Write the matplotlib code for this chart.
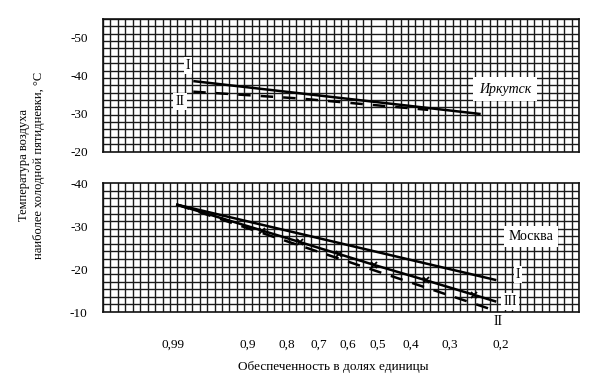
import matplotlib
matplotlib.use("Agg")
import matplotlib.pyplot as plt
import numpy as np
from matplotlib.ticker import FixedLocator, NullLocator

plt.rcParams['font.family'] = ['Liberation Serif', 'DejaVu Serif']

# probability ticks (Gumbel probability paper)
p_ticks = [0.99, 0.9, 0.8, 0.7, 0.6, 0.5, 0.4, 0.3, 0.2]
p_labels = ["0,99", "0,9", "0,8", "0,7", "0,6", "0,5", "0,4", "0,3", "0,2"]

# Иркутск
irk_I_p = [0.978, 0.236]
irk_I_t = [-38.6, -29.9]
irk_II_p = [0.978, 0.760, 0.354]
irk_II_t = [-35.8, -34.0, -31.0]

# Москва
msk_I_p = [0.988, 0.21]
msk_I_t = [-35.0, -17.5]
msk_II_p = [0.988, 0.214]
msk_II_t = [-35.0, -10.5]
msk_III_p = [0.988, 0.868, 0.760, 0.630, 0.514, 0.360, 0.249, 0.21]
msk_III_t = [-35.0, -29.0, -26.3, -23.5, -21.0, -17.4, -14.0, -12.5]


def fwd(p):
    p = np.clip(np.asarray(p, dtype=float), 1e-9, 1 - 1e-12)
    return np.log(-np.log(1 - p))


def inv(u):
    return 1 - np.exp(-np.exp(np.asarray(u, dtype=float)))


fig = plt.figure(figsize=(6.12, 3.8), dpi=100)
ax1 = fig.add_axes([0.1683, 0.6013, 0.7778, 0.3487])
ax2 = fig.add_axes([0.1683, 0.1789, 0.7778, 0.3387])

xl = (0.999846, 0.103)
ncols = 64

for ax, ylim, nrows, yt in [(ax1, (-20, -55), 18, [-50, -40, -30, -20]),
                            (ax2, (-10, -40), 17, [-40, -30, -20, -10])]:
    ax.set_xscale('function', functions=(fwd, inv))
    ax.set_xlim(*xl)
    ax.set_ylim(*ylim)
    ax.xaxis.set_major_locator(FixedLocator(p_ticks))
    ax.xaxis.set_minor_locator(FixedLocator(inv(np.linspace(fwd(xl[0]), fwd(xl[1]), ncols + 1))))
    ax.yaxis.set_major_locator(FixedLocator(yt))
    ax.yaxis.set_minor_locator(FixedLocator(np.linspace(ylim[0], ylim[1], nrows + 1)))
    ax.set_yticklabels([str(v) for v in yt])
    ax.grid(which='minor', color='#1a1a1a', lw=1.0)
    ax.grid(which='major', visible=False)
    ax.tick_params(which='both', length=0)
    ax.tick_params(axis='y', pad=11, labelsize=9.5)
    for s in ax.spines.values():
        s.set_linewidth(1.2)
        s.set_color('#111111')
    ax.set_axisbelow(True)

ax1.set_xticklabels([])
ax2.set_xticklabels(p_labels)
ax2.tick_params(axis='x', pad=19, labelsize=9.5)

box = dict(facecolor='white', edgecolor='none', pad=1.5)

# Иркутск
ax1.plot(irk_I_p, irk_I_t, color='black', lw=1.8, solid_capstyle='butt')
ax1.plot(irk_II_p, irk_II_t, color='black', lw=1.8, dashes=(5, 4))
ax1.text(0.9818, -42.8, "I", ha='center', va='center', fontsize=10, bbox=box)
ax1.text(0.9866, -33.2, "II", ha='center', va='center', fontsize=10, bbox=box)
ax1.text(0.1936, -36.5, "Иркутск", ha='center', va='center', fontsize=10,
         style='italic', bbox=dict(facecolor='white', edgecolor='none', pad=4))

# Москва
ax2.plot(msk_I_p, msk_I_t, color='black', lw=1.8)
ax2.plot(msk_II_p, msk_II_t, color='black', lw=1.8, dashes=(5, 4))
ax2.plot(msk_III_p, msk_III_t, color='black', lw=1.8, marker='x', ms=5, mew=1.3,
         markevery=list(range(1, len(msk_III_p) - 1)))
ax2.text(0.1558, -27.6, "Москва", ha='center', va='center', fontsize=10,
         bbox=dict(facecolor='white', edgecolor='none', pad=3))
ax2.text(0.1738, -18.7, "I", ha='center', va='center', fontsize=10, bbox=box)
ax2.text(0.1859, -12.5, "III", ha='center', va='center', fontsize=10, bbox=box)
ax2.text(0.205, -7.8, "II", ha='center', va='center', fontsize=10, clip_on=False)

fig.text(0.052, 0.565, "Температура воздуха\nнаиболее холодной пятидневки, °С",
         rotation=90, ha='center', va='center', fontsize=9, linespacing=1.3)
fig.text(0.544, 0.034, "Обеспеченность в долях единицы", ha='center', va='center', fontsize=9.5)

fig.savefig("out.png", dpi=100)
